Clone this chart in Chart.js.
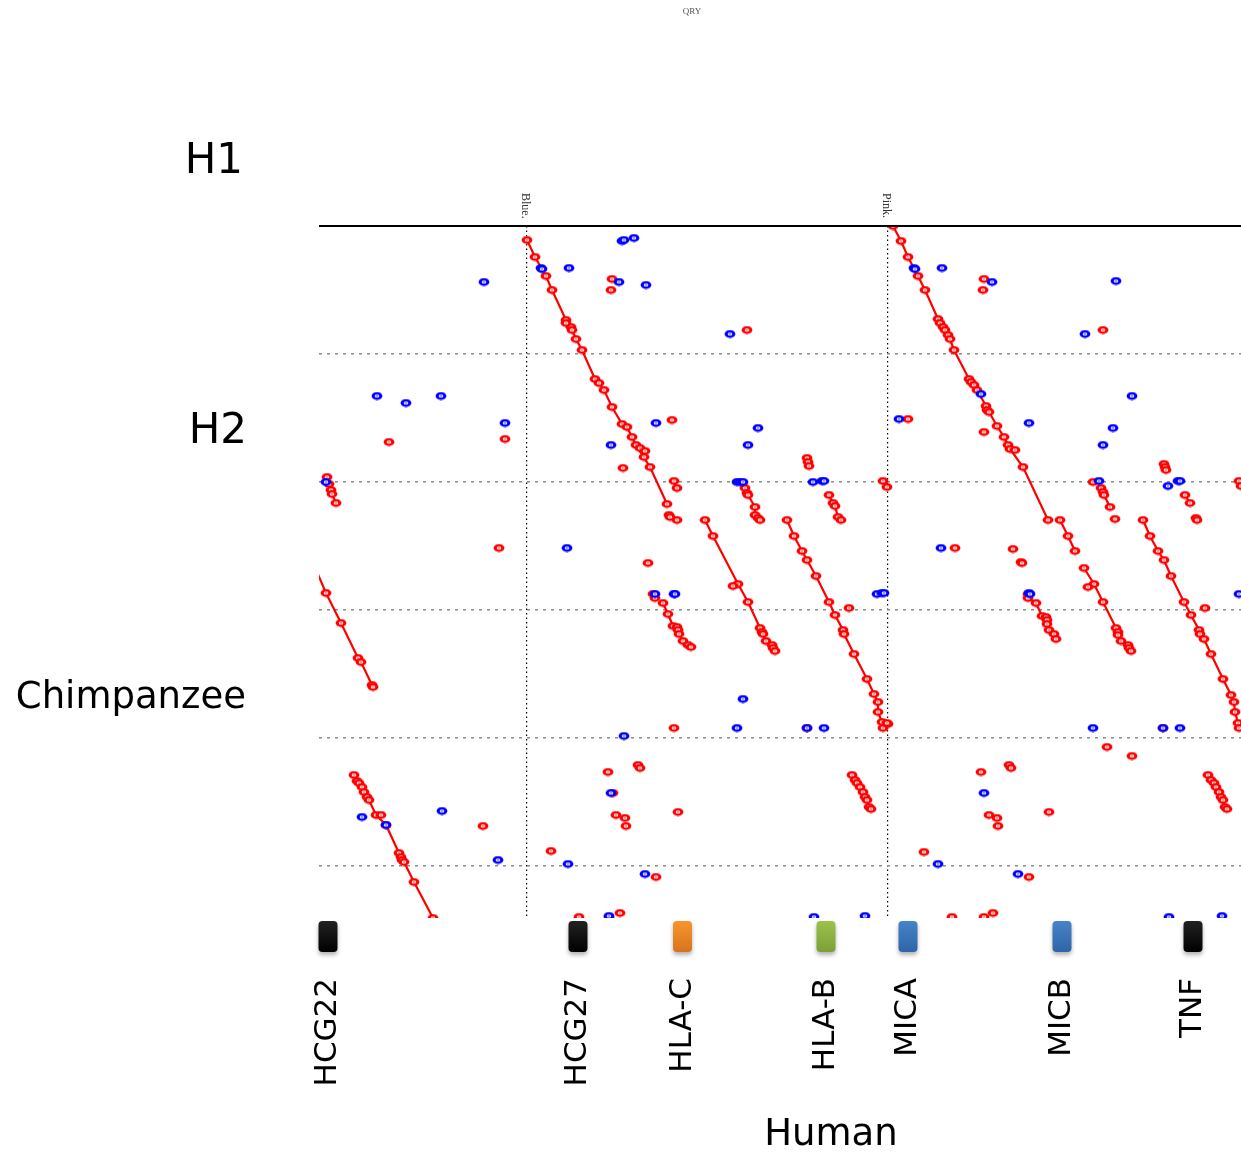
<!DOCTYPE html>
<html>
<head>
<meta charset="utf-8">
<script src="https://cdn.jsdelivr.net/npm/chart.js@4.4.1/dist/chart.umd.min.js"></script>
<style>
  html, body { margin: 0; padding: 0; background: #fff; overflow: hidden; }
  canvas { display: block; }
</style>
</head>
<body>
<canvas id="dotplot" width="1241" height="1152"></canvas>
<script>
// positions in kb: x = human, y = chimpanzee (top to bottom)
const haploStarts = [208, 569];
const haploNames = ['Blue.', 'Pink.'];
const chimpTicks = [128, 256, 384, 512, 640];

const geneNames = ['HCG22', 'HCG27', 'HLA-C', 'HLA-B', 'MICA', 'MICB', 'TNF'];
const genePos = [9, 259, 363.5, 507, 589, 743, 874];
const geneKind = ['other', 'other', 'hlaC', 'hlaB', 'mic', 'mic', 'other'];

// aligned runs (red, joined by a line)
const redSegments = [
  [[208,14],[216,31],[227,50],[233,64],[247,94],[252,101],[257,113],[263,124],[276,153],[280,157],[285,164],[293,181],[303,198],[308,201],[313,211],[317,219],[331,241],[348,278]],
  [[574,0],[582,15],[589,31],[599,50],[606,64],[619,93],[621,97],[624,101],[626,104],[629,109],[631,113],[635,124],[650,153],[652,156],[655,159],[658,164],[667,180],[668,184],[670,186],[678,200],[685,211],[689,219],[691,223],[704,241],[729,294]],
  [[-6,337],[7,367],[22,397],[39,432],[42,436],[53,459],[54,461]],
  [[35,549],[38,555],[40,557],[43,561],[45,566],[48,571],[50,574],[57,589],[67,599],[80,627],[82,631],[83,634],[85,636],[95,656],[114,692]],
  [[8,251],[10,258],[12,264],[13,268],[17,277]],
  [[386,294],[394,310],[419,358],[429,376],[441,402],[443,406],[444,408],[447,415],[453,419],[454,422],[456,425]],
  [[468,294],[475,310],[483,325],[488,334],[497,350],[510,376],[516,389],[524,404],[525,408],[535,428],[548,453],[555,468],[559,476],[559,486],[563,496],[564,502]],
  [[741,294],[749,310],[756,325]],
  [[765,342],[775,358],[784,376],[797,402],[799,406],[799,409],[802,415],[809,419],[810,422],[812,425]],
  [[824,294],[831,310],[839,325],[845,334],[852,350],[865,376],[872,389],[880,404],[881,408],[885,413],[892,428],[904,453],[912,469],[915,476],[916,486],[919,497],[920,502]],
  [[709,368],[709,372],[717,377],[723,390],[727,391],[728,394],[728,398],[730,404],[735,408],[737,413]],
  [[344,377],[349,388],[354,400],[358,401],[359,404],[360,408],[364,415],[369,419],[372,421]],
  [[426,262],[428,267],[429,269],[436,281],[436,289],[439,292],[441,294]],
  [[510,269],[514,277],[516,280],[519,291],[522,294]],
  [[782,262],[784,266],[785,269],[791,281]],
  [[866,269],[871,277]],
  [[355,255],[358,262]],
  [[564,255],[568,261]],
  [[920,255],[922,260]],
  [[533,549],[536,554],[538,557],[541,561],[544,566],[546,571],[548,574],[550,581],[552,583]],
  [[889,549],[892,554],[895,557],[897,561],[900,566],[902,571],[904,574],[906,581],[908,583]]
];

// single red hits
const redPoints = [
  [247,97],[253,104],[321,222],[326,225],[325,231],[696,224],[414,360],[569,498],[568,497],
  [769,361],[796,293],[774,256],[877,292],[878,294],[62,589],[334,368],[336,372],
  [350,289],[351,291],[358,294],[293,53],[292,64],[428,104],[70,216],[186,213],[304,242],
  [353,194],[488,232],[489,236],[490,240],[589,193],[665,53],[664,64],[784,104],[665,206],
  [845,238],[846,241],[847,244],[636,322],[694,323],[702,336],[703,337],[886,382],[530,382],
  [329,337],[180,322],[355,502],[488,502],[844,502],[788,521],[813,530],[164,600],[232,625],
  [289,546],[319,539],[321,542],[294,567],[297,589],[306,592],[307,600],[359,586],[337,651],
  [260,691],[290,691],[301,687],[605,626],[662,546],[690,539],[692,542],[670,589],[678,592],
  [679,600],[730,586],[710,651],[633,691],[665,691],[674,687]
];

// reverse-strand hits (blue)
const bluePoints = [
  [222,42],[223,43],[250,42],[165,56],[303,15],[305,14],[315,12],[300,56],[327,59],[411,108],
  [58,170],[87,177],[122,170],[186,197],[292,219],[337,197],[439,202],[429,219],
  [418,256],[421,256],[424,256],[494,256],[503,255],[505,255],[580,193],
  [595,42],[596,43],[623,42],[673,56],[797,55],[766,108],[813,170],[662,168],[710,197],[794,202],[784,219],
  [780,255],[849,260],[859,255],[861,255],[7,256],[248,322],[622,322],
  [336,368],[355,368],[356,368],[558,368],[563,367],[565,367],[710,367],[711,368],[920,368],
  [424,473],[305,510],[418,502],[488,502],[505,502],[774,502],[844,502],[861,502],
  [43,591],[123,585],[67,599],[179,634],[249,638],[292,567],[326,648],[290,690],[495,691],[546,690],
  [619,638],[665,567],[699,648],[850,691],[903,690]
];

const RED = '#ff0000';
const BLUE = '#0000ff';
const geneColours = {
  other: ['#222', '#000'],
  hlaC: ['#f7962e', '#d8731c'],
  hlaB: ['#9cc24c', '#7d9f36'],
  mic: ['#4683c8', '#2f65a8']
};

// little ring marker like the original dotter output
function makeMark(color) {
  const c = document.createElement('canvas');
  c.width = 12; c.height = 9;
  const g = c.getContext('2d');
  g.fillStyle = color;
  g.beginPath(); g.ellipse(6, 4.5, 5.4, 3.9, 0, 0, Math.PI * 2); g.fill();
  g.fillStyle = '#fff';
  g.beginPath(); g.ellipse(6, 4.5, 2.3, 1.5, 0, 0, Math.PI * 2); g.fill();
  g.fillStyle = color;
  g.beginPath(); g.ellipse(6, 4.5, 0.9, 0.6, 0, 0, Math.PI * 2); g.fill();
  return c;
}
const redMark = makeMark(RED);
const blueMark = makeMark(BLUE);

const toXY = arr => arr.map(p => ({ x: p[0], y: p[1] }));

const datasets = [
  { label: 'reverse', data: toXY(bluePoints), pointStyle: blueMark, order: 0 },
  { label: 'forward', data: toXY(redPoints), pointStyle: redMark, order: 1 }
];
redSegments.forEach((seg, i) => {
  datasets.push({
    label: 'run ' + i,
    data: toXY(seg),
    showLine: true,
    borderColor: RED,
    borderWidth: 2.2,
    pointStyle: redMark,
    order: 2
  });
});

const decorations = {
  id: 'decorations',
  afterDraw(chart) {
    const ctx = chart.ctx;
    const xs = chart.scales.x;
    const area = chart.chartArea;
    ctx.save();

    // top rule
    ctx.strokeStyle = '#000';
    ctx.lineWidth = 2;
    ctx.beginPath();
    ctx.moveTo(area.left, area.top);
    ctx.lineTo(area.right, area.top);
    ctx.stroke();

    // title
    ctx.fillStyle = '#555';
    ctx.font = '9px "Liberation Serif", serif';
    ctx.textAlign = 'center';
    ctx.textBaseline = 'middle';
    ctx.fillText('QRY', 692, 12);

    // haplotype starts
    ctx.font = '12px "Liberation Serif", serif';
    ctx.fillStyle = '#333';
    haploStarts.forEach((v, i) => {
      ctx.save();
      ctx.translate(xs.getPixelForValue(v) - 2, area.top - 33);
      ctx.rotate(Math.PI / 2);
      ctx.textAlign = 'left';
      ctx.textBaseline = 'middle';
      ctx.fillText(haploNames[i], 0, 0);
      ctx.restore();
    });

    // row labels
    ctx.fillStyle = '#000';
    ctx.textAlign = 'right';
    ctx.textBaseline = 'alphabetic';
    ctx.font = '42px "DejaVu Sans", sans-serif';
    ctx.fillText('H1', 243, 173);
    ctx.fillText('H2', 247, 443);
    ctx.font = '37px "DejaVu Sans", sans-serif';
    ctx.fillText('Chimpanzee', 246, 708);

    // genes
    genePos.forEach((v, i) => {
      const cx = xs.getPixelForValue(v);
      const col = geneColours[geneKind[i]];
      const grad = ctx.createLinearGradient(0, 921, 0, 952);
      grad.addColorStop(0, col[0]);
      grad.addColorStop(1, col[1]);
      ctx.save();
      ctx.shadowColor = 'rgba(0,0,0,0.3)';
      ctx.shadowBlur = 4;
      ctx.shadowOffsetY = 3;
      ctx.fillStyle = grad;
      ctx.beginPath();
      ctx.roundRect(cx - 9.5, 921, 19, 31, 4);
      ctx.fill();
      ctx.restore();

      ctx.save();
      ctx.translate(cx, 978);
      ctx.rotate(-Math.PI / 2);
      ctx.fillStyle = '#000';
      ctx.font = '31px "DejaVu Sans", sans-serif';
      ctx.textAlign = 'right';
      ctx.textBaseline = 'middle';
      ctx.fillText(geneNames[i], 0, 0);
      ctx.restore();
    });

    // axis title
    ctx.fillStyle = '#000';
    ctx.font = '37px "DejaVu Sans", sans-serif';
    ctx.textAlign = 'center';
    ctx.textBaseline = 'alphabetic';
    ctx.fillText('Human', 831, 1145);
    ctx.restore();
  }
};

new Chart(document.getElementById('dotplot'), {
  type: 'scatter',
  data: { datasets },
  options: {
    responsive: false,
    animation: false,
    layout: { autoPadding: false, padding: { left: 319, right: 0, top: 226, bottom: 234 } },
    plugins: { legend: { display: false }, tooltip: { enabled: false } },
    elements: { point: { radius: 4 } },
    scales: {
      x: {
        type: 'linear',
        position: 'top',
        min: 0,
        max: 922,
        afterBuildTicks: s => { s.ticks = haploStarts.map(v => ({ value: v })); },
        afterFit: s => { s.height = 0; },
        ticks: { display: false },
        grid: { color: '#000', lineWidth: 1.2, drawTicks: false },
        border: { display: false, dash: [1.5, 3] }
      },
      y: {
        type: 'linear',
        reverse: true,
        min: 0,
        max: 692,
        afterBuildTicks: s => { s.ticks = chimpTicks.map(v => ({ value: v })); },
        afterFit: s => { s.width = 0; },
        ticks: { display: false },
        grid: { color: '#8a8a8a', lineWidth: 1.5, drawTicks: false },
        border: { display: false, dash: [3, 5] }
      }
    }
  },
  plugins: [decorations]
});
</script>
</body>
</html>
